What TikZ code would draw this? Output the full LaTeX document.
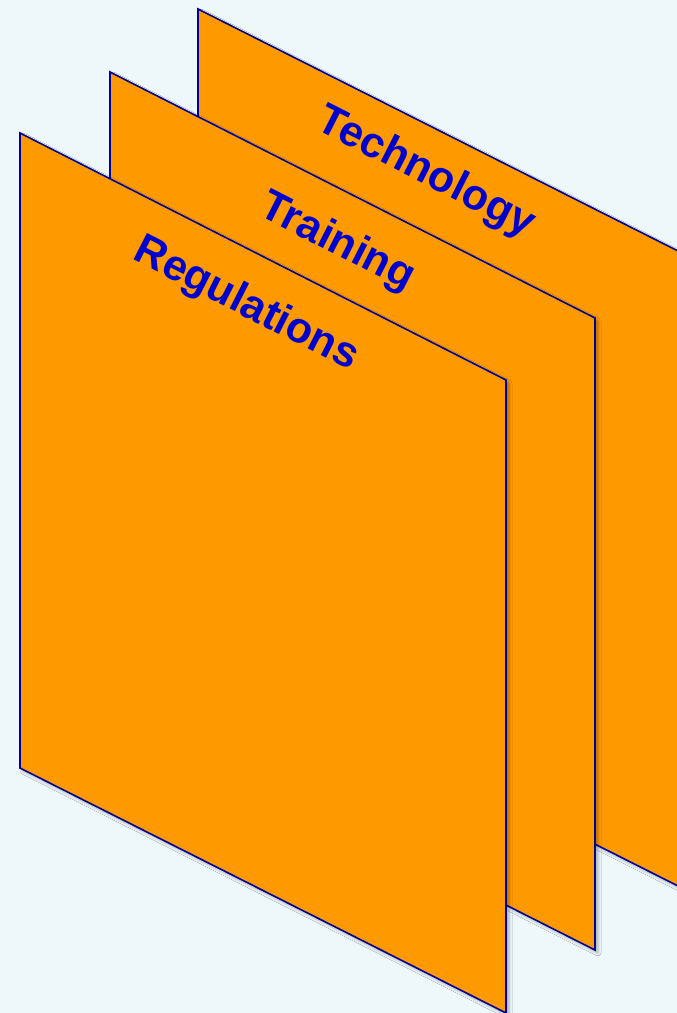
\documentclass[tikz,border=0pt]{standalone}
\usepackage{fontspec}
\setmainfont{Liberation Sans}
\usetikzlibrary{shadows.blur}
\definecolor{bgc}{RGB}{238,247,250}
\definecolor{panelfill}{RGB}{255,153,0}
\definecolor{panelline}{RGB}{0,0,150}
\definecolor{labelc}{RGB}{0,0,204}
\tikzset{
  panel/.style={fill=panelfill, draw=panelline, line width=1.6pt, line join=miter,
    blur shadow={shadow xshift=3pt, shadow yshift=-3pt, shadow blur radius=3pt, shadow opacity=30}},
  panellabel/.style={text=labelc, font=\fontsize{43}{43}\selectfont\bfseries, rotate=-27, inner sep=0pt}
}
\begin{document}
\begin{tikzpicture}[x=1pt,y=-1pt]
\useasboundingbox (0,0) rectangle (677,1013);
\fill[bgc] (0,0) rectangle (677,1013);
% back panel
\draw[panel] (198,9) -- (684,254) -- (684,889) -- (198,644) -- cycle;
\node[panellabel] (tech) at (426,173) {Technology};
% middle panel
\draw[panel] (110,72) -- (595,318) -- (595,950) -- (110,705) -- cycle;
\node[panellabel] (train) at (337,243) {Training};
% front panel
\draw[panel] (20,133) -- (506,380) -- (506,1013) -- (20,768) -- cycle;
\node[panellabel] (regs) at (246,305) {Regulations};
\end{tikzpicture}
\end{document}
